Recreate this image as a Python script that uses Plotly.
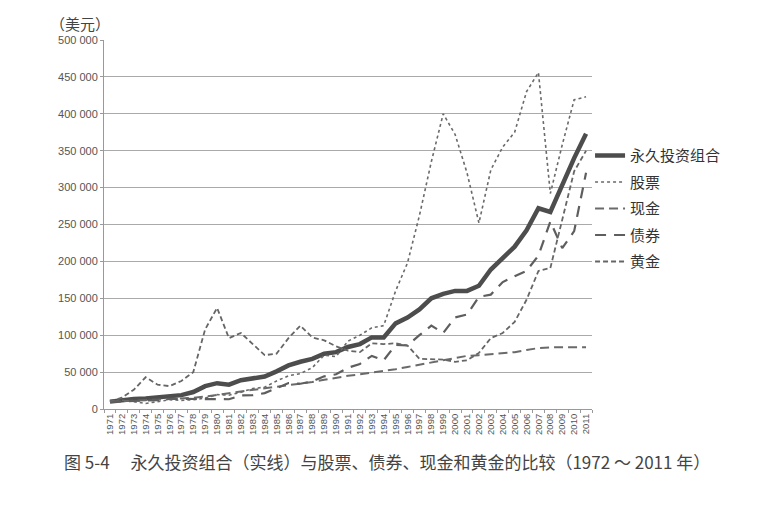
import plotly.graph_objects as go

years = [str(y) for y in range(1971, 2012)]

permanent = [10, 12, 13.4, 14.3, 15.7, 17.4, 18.8, 23, 31, 35, 33, 39, 42, 44, 51, 59, 64, 68, 75, 77,
             84, 88, 97, 97, 116, 124, 135, 150, 156, 160, 160, 167, 189, 204, 220, 242, 272, 267, 305, 340, 373]
stocks = [10, 11.9, 10, 7.5, 10, 12.5, 11.7, 12.5, 14.8, 19.6, 18.7, 22.7, 27.8, 29.5, 38, 45, 48, 56, 73, 71,
          92, 100, 110, 113, 160, 198, 262, 335, 400, 372, 320, 252, 324, 355, 375, 430, 456, 292, 358, 419, 423]
cash = [10, 10.4, 11.1, 12, 12.7, 13.4, 14.1, 15.2, 16.8, 18.7, 21.4, 23.8, 25.9, 28.5, 30.6, 32.5, 34.3, 36.5, 39.6, 42.5,
        45, 47, 49, 51, 54, 57, 60, 63, 66, 70, 72, 73, 74, 75, 77, 80, 82.5, 83.5, 83.6, 83.7, 83.8]
bonds = [10, 10.6, 10.5, 10.9, 11.9, 13.9, 13.8, 13.7, 13.5, 13, 13.2, 18.5, 18.7, 21.5, 28.2, 35.1, 34.2, 37.5, 44.3, 47,
         56, 61, 72, 66, 87, 86, 100, 113, 103, 124, 128, 152, 155, 172, 180, 187, 208, 254, 218, 241, 320]
gold = [10, 15.5, 26, 43, 33, 31, 38, 50, 108, 137, 96, 103, 88, 73, 75, 96, 113, 97, 93, 85,
        79, 77, 89, 88, 89, 86, 68, 67, 67, 64, 66, 76, 96, 103, 118, 148, 187, 191, 258, 322, 350]

y_ticks = [0, 50000, 100000, 150000, 200000, 250000, 300000, 350000, 400000, 450000, 500000]
y_tick_labels = ["0", "50 000", "100 000", "150 000", "200 000", "250 000",
                 "300 000", "350 000", "400 000", "450 000", "500 000"]

names = ["永久投资组合", "股票", "现金", "债券", "黄金"]
series = [permanent, stocks, cash, bonds, gold]
styles = [
    dict(color="#4d4d4d", width=4.5, dash="solid"),
    dict(color="#6a6a6a", width=1.6, dash="dot"),
    dict(color="#6a6a6a", width=2.0, dash="9px,5px"),
    dict(color="#5e5e5e", width=2.2, dash="11px,8px"),
    dict(color="#666666", width=1.8, dash="5px,3px"),
]

fig = go.Figure()
for i, (nm, vals, st) in enumerate(zip(names, series, styles)):
    fig.add_trace(go.Scatter(
        x=years, y=[v * 1000 for v in vals], name=nm, mode="lines",
        line=st, legendgroup=f"g{i}", legendrank=i + 1,
    ))

fig.update_layout(
    width=773, height=509,
    margin=dict(l=96, r=189, t=32, b=108),
    paper_bgcolor="white", plot_bgcolor="white",
    showlegend=True,
    legend=dict(
        x=0.996, xanchor="left", y=0.731, yanchor="top",
        font=dict(family="Noto Sans CJK SC", size=15, color="#333"),
        traceorder="grouped", tracegroupgap=4,
        bgcolor="rgba(0,0,0,0)", itemwidth=30,
    ),
    xaxis=dict(
        type="category", range=[-0.5, 40.5], automargin=False,
        tickmode="array", tickvals=years, ticktext=years,
        tickangle=-90, tickfont=dict(family="Liberation Sans", size=9.5, color="#555"),
        showgrid=False, showline=True, linecolor="#999", linewidth=1,
        ticks="outside", ticklen=3, tickcolor="#999", tickson="boundaries",
    ),
    yaxis=dict(
        range=[0, 500000], tickvals=y_ticks, ticktext=y_tick_labels, automargin=False,
        tickfont=dict(family="Liberation Sans", size=11, color="#555"),
        showgrid=True, gridcolor="#aaa", gridwidth=1,
        showline=True, linecolor="#999", linewidth=1,
        ticks="outside", ticklen=3, tickcolor="#999", zeroline=False,
    ),
    annotations=[
        dict(text="（美元）", xref="paper", yref="paper", x=-0.115, y=1.045,
             xanchor="left", yanchor="middle", showarrow=False,
             font=dict(family="Noto Sans CJK SC", size=15, color="#444")),
        dict(text="图 5-4　 永久投资组合（实线）与股票、债券、现金和黄金的比较（1972 ～ 2011 年）",
             xref="paper", yref="paper", x=-0.086, y=-0.143,
             xanchor="left", yanchor="middle", showarrow=False,
             font=dict(family="Noto Sans CJK SC", size=17, color="#444")),
    ],
)

fig.write_html("out.html")
